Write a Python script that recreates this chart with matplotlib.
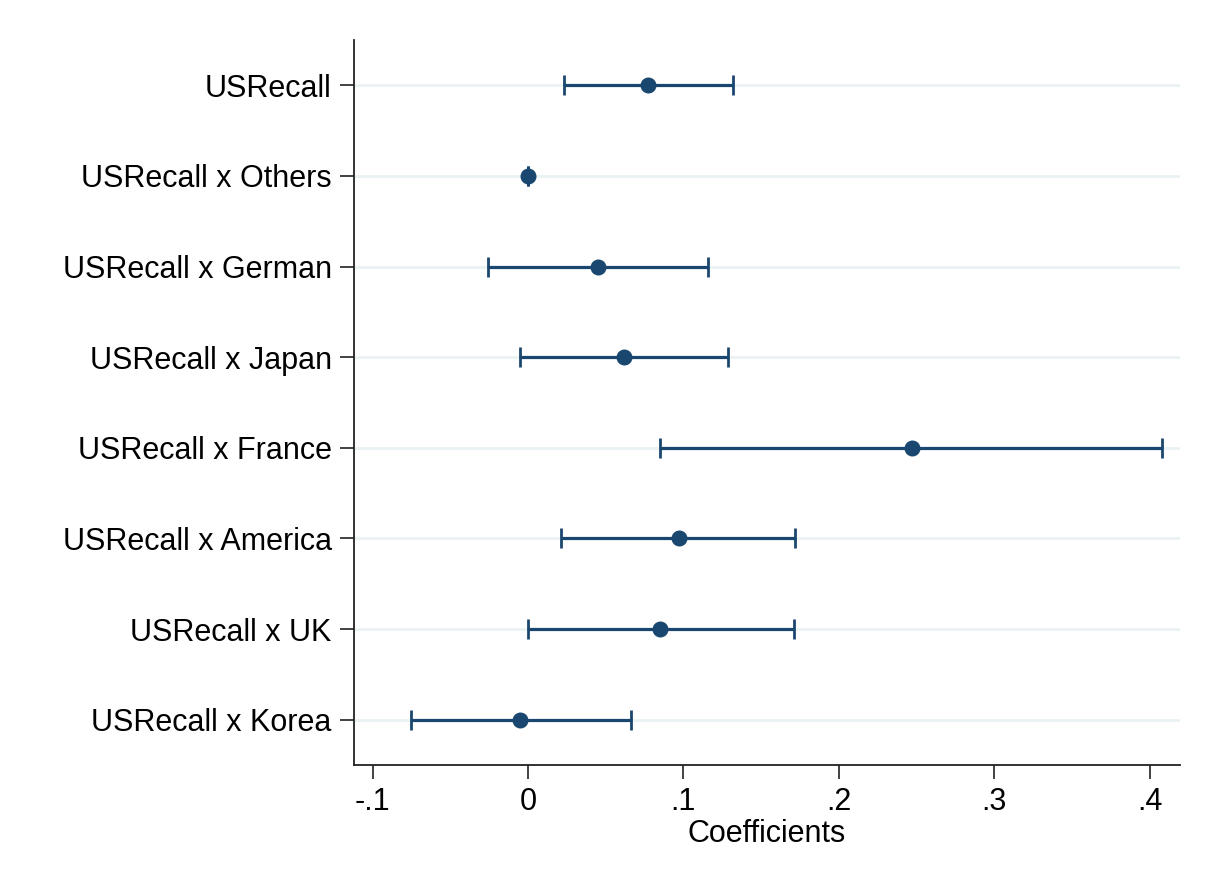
import matplotlib.pyplot as plt

plt.rcParams['font.family'] = ['Liberation Sans', 'DejaVu Sans']

labels = ['USRecall', 'USRecall x Others', 'USRecall x German', 'USRecall x Japan',
          'USRecall x France', 'USRecall x America', 'USRecall x UK', 'USRecall x Korea']
coef = [0.077, 0.0, 0.045, 0.062, 0.247, 0.097, 0.085, -0.005]
ci_low = [0.023, 0.0, -0.026, -0.005, 0.085, 0.021, 0.0, -0.075]
ci_high = [0.132, 0.0, 0.116, 0.129, 0.408, 0.172, 0.171, 0.066]

xticks = [-0.1, 0, 0.1, 0.2, 0.3, 0.4]
xticklabels = ['-.1', '0', '.1', '.2', '.3', '.4']

navy = '#1a476f'

fig = plt.figure(figsize=(12.05, 8.77), dpi=100)
ax = fig.add_axes([354 / 1205, 1 - 765 / 877, (1180 - 354) / 1205, (765 - 40) / 877])

ypos = list(range(len(labels), 0, -1))
for y in ypos:
    ax.axhline(y, color='#eaf2f3', lw=2, zorder=0)

err_lo = [c - l for c, l in zip(coef, ci_low)]
err_hi = [h - c for c, h in zip(coef, ci_high)]
ax.errorbar(coef, ypos, xerr=[err_lo, err_hi], fmt='o', color=navy, ms=10.5,
            elinewidth=2.3, capsize=7, capthick=2, zorder=3)

ax.set_ylim(0.5, len(labels) + 0.5)
ax.set_xlim(-0.112, 0.4196)
ax.set_yticks(ypos)
ax.set_yticklabels(labels, fontsize=22)
ax.set_xticks(xticks)
ax.set_xticklabels(xticklabels, fontsize=22)
ax.set_xlabel('Coefficients', fontsize=22, labelpad=1)

for side in ['top', 'right']:
    ax.spines[side].set_visible(False)
for side in ['left', 'bottom']:
    ax.spines[side].set_linewidth(1.3)
    ax.spines[side].set_color('#222222')
ax.tick_params(axis='both', length=10, width=1.3, color='#333333', pad=6)

fig.savefig('out.png', dpi=100, facecolor='white')
